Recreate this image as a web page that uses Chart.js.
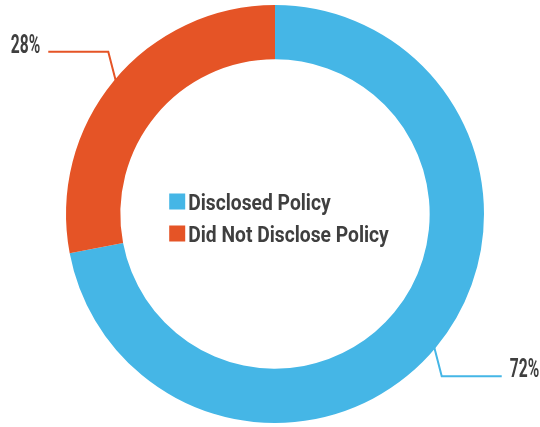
<!DOCTYPE html>
<html>
<head>
<meta charset="utf-8">
<script src="https://cdn.jsdelivr.net/npm/chart.js@4"></script>
<style>
html,body{margin:0;padding:0;background:#fff;}
#wrap{width:540px;height:427px;position:relative;}
</style>
</head>
<body>
<div id="wrap"><canvas id="c" width="540" height="427"></canvas></div>
<script>
const categories = ['Disclosed Policy', 'Did Not Disclose Policy'];
const values = [72, 28];
const percentLabels = ['72%', '28%'];
const colors = ['#45B6E6', '#E55426'];

const FONT_FAMILY = 'Roboto, "DejaVu Sans", sans-serif';
const TEXT_COLOR = '#3f3f3f';

function scaledText(ctx, text, x, y, align, sx) {
  ctx.save();
  ctx.translate(x, y);
  ctx.scale(sx, 1);
  ctx.textAlign = align;
  ctx.textBaseline = 'alphabetic';
  ctx.fillText(text, 0, 0);
  ctx.restore();
}

const overlayPlugin = {
  id: 'overlay',
  afterDatasetsDraw(chart) {
    const ctx = chart.ctx;
    const meta = chart.getDatasetMeta(0);
    ctx.save();
    // leader lines and percent labels
    meta.data.forEach((arc, i) => {
      const p = arc.getProps(['x', 'y', 'startAngle', 'endAngle', 'outerRadius'], true);
      const mid = (p.startAngle + p.endAngle) / 2;
      const c = Math.cos(mid), s = Math.sin(mid);
      const dx = c >= 0 ? 1 : -1, dy = s >= 0 ? 1 : -1;
      const x1 = p.x + c * (p.outerRadius - 3), y1 = p.y + s * (p.outerRadius - 3);
      const x2 = x1 + dx * 8, y2 = y1 + dy * 31;
      const x3 = x2 + dx * 60;
      ctx.beginPath();
      ctx.strokeStyle = colors[i];
      ctx.lineWidth = 2;
      ctx.moveTo(x1, y1);
      ctx.lineTo(x2, y2);
      ctx.lineTo(x3, y2);
      ctx.stroke();
      ctx.font = 'bold 26px ' + FONT_FAMILY;
      ctx.fillStyle = TEXT_COLOR;
      scaledText(ctx, percentLabels[i], x3 + dx * 8, y2 + 1, dx > 0 ? 'left' : 'right', 0.6);
    });
    // center legend
    const cx = meta.data[0].x, cy = meta.data[0].y;
    const sx = 0.875;
    ctx.font = 'bold 22px ' + FONT_FAMILY;
    const box = 16, gap = 3, lineH = 32;
    let maxW = 0;
    categories.forEach(t => { maxW = Math.max(maxW, ctx.measureText(t).width * sx); });
    const totalW = box + gap + maxW;
    const left = cx + 4 - totalW / 2;
    const top = cy + 3.5 - (lineH + box) / 2;
    categories.forEach((t, i) => {
      const y = top + i * lineH;
      ctx.fillStyle = colors[i];
      ctx.fillRect(left, y, box, box);
      ctx.fillStyle = TEXT_COLOR;
      scaledText(ctx, t, left + box + gap, y + box, 'left', sx);
    });
    ctx.restore();
  }
};

new Chart(document.getElementById('c'), {
  type: 'doughnut',
  data: {
    labels: categories,
    datasets: [{
      data: values,
      backgroundColor: colors,
      borderWidth: 0
    }]
  },
  options: {
    responsive: false,
    animation: false,
    cutout: '74%',
    layout: { padding: { left: 66, right: 56, top: 5, bottom: 4 } },
    plugins: {
      legend: { display: false },
      tooltip: { enabled: false }
    }
  },
  plugins: [overlayPlugin]
});
</script>
</body>
</html>
